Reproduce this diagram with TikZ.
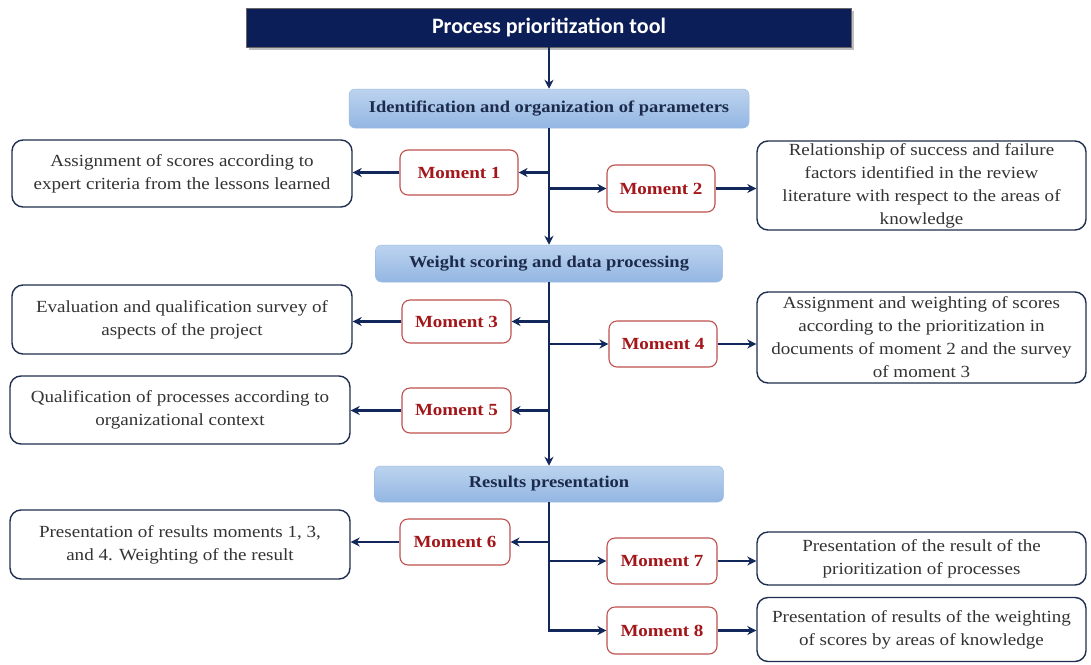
\documentclass[tikz,border=0pt]{standalone}
\usepackage{fontspec}
\setmainfont[FakeStretch=1.12]{Liberation Serif}
\newfontfamily\titlefont{Carlito}
\usetikzlibrary{arrows.meta,shadows}
\definecolor{navy}{HTML}{13285A}
\definecolor{titlebg}{HTML}{0C1E57}
\definecolor{hdtop}{HTML}{BCD3EF}
\definecolor{hdbot}{HTML}{93B6E2}
\definecolor{hdtext}{HTML}{1C2B4C}
\definecolor{mborder}{HTML}{C0504D}
\definecolor{mtext}{HTML}{A3161A}
\definecolor{bborder}{HTML}{1F2F4F}
\definecolor{btext}{HTML}{333333}
\tikzset{
  titlebox/.style={draw=black!60, line width=0.8pt, fill=titlebg, text=white,
    minimum width=605pt, minimum height=39pt, inner sep=0pt,
    font=\titlefont\bfseries\fontsize{22}{26}\selectfont,
    drop shadow={shadow xshift=2pt, shadow yshift=-3pt, opacity=0.5}},
  header/.style={rounded corners=6pt, top color=hdtop, bottom color=hdbot,
    draw=hdbot!90!white, line width=0.5pt, text=hdtext, inner sep=0pt,
    font=\bfseries\fontsize{16.5}{20}\selectfont},
  moment/.style={rounded corners=8pt, draw=mborder, line width=1.1pt, fill=white,
    text=mtext, minimum width=110pt, minimum height=46pt, inner sep=0pt,
    font=\bfseries\fontsize{17}{20}\selectfont},
  desc/.style={rounded corners=11pt, draw=bborder, line width=1.4pt, fill=white,
    text=btext, align=center, inner sep=0pt, minimum width=340pt,
    font=\fontsize{17}{23}\selectfont},
  rdesc/.style={desc, minimum width=329pt},
  trunk/.style={draw=navy, line width=2.6pt},
  arr/.style={trunk, -{Stealth[length=9pt,width=9pt]}},
}
\begin{document}
\begin{tikzpicture}[x=1pt,y=-1pt]
\useasboundingbox[fill=white] (0,0) rectangle (1091,664);

\node[titlebox] (title) at (549,27.5) {Process prioritization tool};
\node[header, minimum width=400pt, minimum height=39pt] (h1) at (549,108.5) {Identification and organization of parameters};
\node[header, minimum width=347pt, minimum height=37pt] (h2) at (549,263.5) {Weight scoring and data processing};
\node[header, minimum width=349pt, minimum height=36pt] (h3) at (549,484) {Results presentation};

\node[moment, minimum width=118pt, minimum height=45pt] (m1) at (459,172.5) {Moment 1};
\node[moment, minimum width=108pt, minimum height=47pt] (m2) at (661,188.5) {Moment 2};
\node[moment, minimum width=109pt, minimum height=43pt] (m3) at (456.5,321.5) {Moment 3};
\node[moment, minimum width=108pt, minimum height=46pt] (m4) at (663,344) {Moment 4};
\node[moment, minimum width=109pt, minimum height=45pt] (m5) at (456.5,410.5) {Moment 5};
\node[moment] (m6) at (455,542) {Moment 6};
\node[moment] (m7) at (662,561) {Moment 7};
\node[moment, minimum height=47pt] (m8) at (662,630.5) {Moment 8};

\node[desc, minimum height=67pt] (l1) at (182,173.5) {Assignment of scores according to\\expert criteria from the lessons learned};
\node[desc, minimum height=69pt] (l2) at (182,319.5) {Evaluation and qualification survey of\\aspects of the project};
\node[desc, minimum height=68pt] (l3) at (180,410) {Qualification of processes according to\\organizational context};
\node[desc, minimum height=69pt] (l4) at (180,544.5) {Presentation of results moments 1, 3,\\and 4. Weighting of the result};

\node[rdesc, minimum height=89pt] (r1) at (921.5,185.5) {Relationship of success and failure\\factors identified in the review\\literature with respect to the areas of\\knowledge};
\node[rdesc, minimum height=91pt] (r2) at (921.5,337.5) {Assignment and weighting of scores\\according to the prioritization in\\documents of moment 2 and the survey\\of moment 3};
\node[rdesc, minimum height=53pt] (r3) at (921.5,558.5) {Presentation of the result of the\\prioritization of processes};
\node[rdesc, minimum height=64pt] (r4) at (921.5,629.5) {Presentation of results of the weighting\\of scores by areas of knowledge};

\draw[arr] (title.south) -- (h1.north);
\draw[arr] (h1.south) -- (h2.north);
\draw[arr] (h2.south) -- (h3.north);

\draw[arr] (h1.south |- m1.east) -- (m1.east);
\draw[arr] (h1.south |- m2.west) -- (m2.west);
\draw[arr] (m1.west) -- (m1.west -| l1.east);
\draw[arr] (m2.east) -- (m2.east -| r1.west);

\draw[arr] (h2.south |- m3.east) -- (m3.east);
\draw[arr] (h2.south |- m4.west) -- (m4.west);
\draw[arr] (h2.south |- m5.east) -- (m5.east);
\draw[arr] (m3.west) -- (m3.west -| l2.east);
\draw[arr] (m4.east) -- (m4.east -| r2.west);
\draw[arr] (m5.west) -- (m5.west -| l3.east);

\draw[arr] (h3.south |- m6.east) -- (m6.east);
\draw[arr] (h3.south |- m7.west) -- (m7.west);
\draw[arr] (h3.south) |- (m8.west);
\draw[arr] (m6.west) -- (m6.west -| l4.east);
\draw[arr] (m7.east) -- (m7.east -| r3.west);
\draw[arr] (m8.east) -- (m8.east -| r4.west);
\end{tikzpicture}
\end{document}
